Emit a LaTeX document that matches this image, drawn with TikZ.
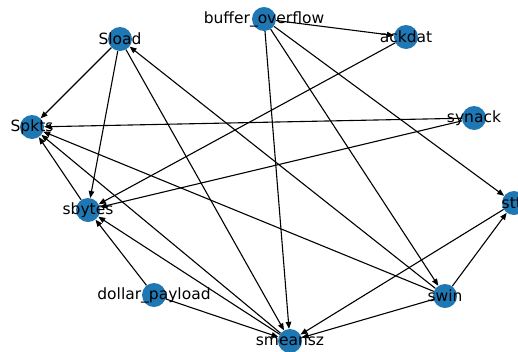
\documentclass[tikz,border=0pt]{standalone}
\usepackage{fontspec}
\setmainfont{DejaVu Sans}
\usetikzlibrary{arrows.meta}
\definecolor{nxblue}{HTML}{1F77B4}
\tikzset{
  vertex/.style={circle, fill=nxblue, draw=none, minimum size=24pt, inner sep=0pt},
  vlabel/.style={text=black, inner sep=0pt, font=\fontsize{15.5}{18}\selectfont},
  edge/.style={draw=black, line width=1.1pt, -{Triangle[length=7pt,width=5.5pt]}},
}
\begin{document}
\begin{tikzpicture}[x=1pt,y=-1pt]
  \useasboundingbox (0,0) rectangle (518,351);
  \clip (0,0) rectangle (518,351);

  % vertices
  \node[vertex] (bo) at (264,19)  {};
  \node[vertex] (ak) at (406,37)  {};
  \node[vertex] (sl) at (120,39)  {};
  \node[vertex] (sp) at (32,127)  {};
  \node[vertex] (sy) at (474,118) {};
  \node[vertex] (sb) at (88,210)  {};
  \node[vertex] (st) at (514,203) {};
  \node[vertex] (dp) at (154,295) {};
  \node[vertex] (sw) at (445,296) {};
  \node[vertex] (sm) at (290,341) {};

  % directed edges
  \draw[edge] (bo) -- (ak);
  \draw[edge] (bo) -- (sm);
  \draw[edge] (bo) -- (sw);
  \draw[edge] (bo) -- (st);
  \draw[edge] (sl) -- (sp);
  \draw[edge] (sl) -- (sb);
  \draw[edge] (sl) -- (sm);
  \draw[edge] (sw) -- (sl);
  \draw[edge] (ak) -- (sb);
  \draw[edge] (sy) -- (sp);
  \draw[edge] (sy) -- (sb);
  \draw[edge] (sb) -- (sp);
  \draw[edge] (sm) -- (sp);
  \draw[edge] (sw) -- (sp);
  \draw[edge] (sm) -- (sb);
  \draw[edge] (dp) -- (sb);
  \draw[edge] (dp) -- (sm);
  \draw[edge] (sw) -- (st);
  \draw[edge] (sw) -- (sm);
  \draw[edge] (st) -- (sm);

  % labels on top
  \node[vlabel] (bo-l) at (bo) {buffer\_overflow};
  \node[vlabel] (ak-l) at (ak) {ackdat};
  \node[vlabel] (sl-l) at (sl) {Sload};
  \node[vlabel] (sp-l) at (sp) {Spkts};
  \node[vlabel] (sy-l) at (sy) {synack};
  \node[vlabel] (sb-l) at (sb) {sbytes};
  \node[vlabel] (st-l) at (st) {sttl};
  \node[vlabel] (dp-l) at (dp) {dollar\_payload};
  \node[vlabel] (sw-l) at (sw) {swin};
  \node[vlabel] (sm-l) at (sm) {smeansz};
\end{tikzpicture}
\end{document}
